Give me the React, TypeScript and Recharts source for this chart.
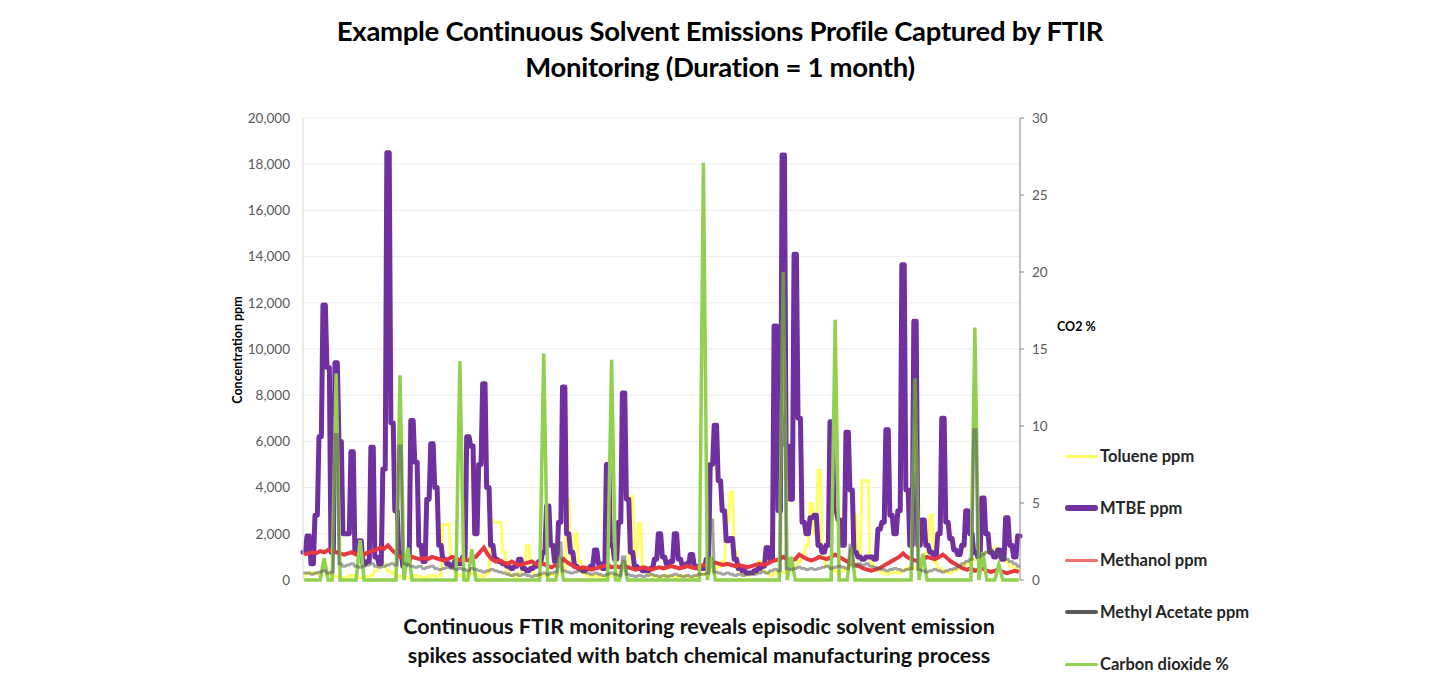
import { CartesianGrid, Line, LineChart, XAxis, YAxis } from 'recharts'

// FTIR readings, one sample per step across the month (ppm unless noted)
const toluene = [
  200, 300, 300, 300, 200, 800, 300, 200, 150, 100,
  100, 150, 200, 150, 100, 100, 150, 200, 400, 700,
  700, 400, 300, 200, 150, 100, 100, 150, 200, 150,
  100, 150, 200, 150, 200, 2400, 2400, 1000, 300, 200,
  150, 200, 300, 250, 200, 150, 300, 2600, 2500, 2500,
  1200, 300, 200, 150, 300, 500, 1500, 400, 200, 150,
  200, 300, 250, 200, 300, 500, 3500, 800, 2000, 800,
  300, 200, 150, 200, 150, 100, 150, 200, 150, 300,
  400, 600, 3600, 1000, 2450, 600, 300, 200, 150, 100,
  150, 200, 150, 100, 150, 200, 150, 100, 150, 200,
  250, 300, 400, 500, 600, 800, 2500, 3800, 1200, 400,
  300, 200, 250, 300, 800, 400, 300, 200, 300, 400,
  300, 400, 500, 600, 800, 1000, 1500, 3300, 2000, 4750,
  1000, 600, 500, 400, 300, 400, 500, 600, 2800, 900,
  4300, 4300, 800, 500, 400, 300, 250, 300, 350, 300,
  400, 500, 600, 500, 700, 900, 1200, 2800, 800, 500,
  400, 350, 300, 400, 500, 600, 700, 800, 900, 1000,
  1100, 1200, 1300, 1400, 1200, 1000, 800, 600, 500, 400,
]

const mtbe = [
  1200, 1900, 700, 2800, 6200, 11900, 9200, 1200, 9400, 6000,
  2000, 2000, 5550, 1200, 1700, 700, 800, 5750, 1000, 700,
  4800, 18500, 6800, 3000, 1200, 600, 800, 6900, 5100, 1500,
  800, 3500, 5900, 4000, 1500, 900, 700, 600, 800, 700,
  1000, 6200, 5800, 2000, 5000, 8500, 4000, 1500, 900, 800,
  700, 600, 500, 600, 900, 500, 400, 500, 600, 800,
  1200, 3200, 1500, 800, 2500, 8350, 2000, 1200, 600, 500,
  400, 500, 600, 1300, 700, 500, 5000, 1500, 900, 2500,
  8100, 3500, 1200, 600, 500, 400, 400, 500, 900, 2000,
  1000, 700, 800, 2000, 900, 600, 700, 1100, 600, 500,
  500, 900, 5000, 6700, 4300, 3000, 1700, 1800, 900, 500,
  400, 300, 300, 400, 500, 600, 1400, 900, 11000, 3000,
  18400, 5800, 3500, 14100, 7000, 2500, 2000, 2700, 2800, 1500,
  1200, 1500, 6850, 3000, 2600, 1500, 6400, 3900, 1200, 1000,
  900, 1000, 1000, 900, 2200, 2500, 6500, 2800, 2000, 3000,
  13650, 3900, 1500, 11200, 1500, 2600, 1500, 1200, 1000, 2000,
  7000, 2500, 1800, 1300, 1100, 1500, 3000, 2000, 1200, 1000,
  3550, 2000, 1200, 1000, 1300, 900, 2700, 1500, 1000, 1900,
]

const methanol = [
  1100, 1150, 1200, 1150, 1250, 1200, 1300, 1250, 1200, 1150,
  1100, 1150, 1200, 1100, 1050, 1100, 1200, 1250, 1300, 1400,
  1350, 1500, 1300, 1150, 1000, 950, 900, 1000, 950, 900,
  950, 900, 1000, 950, 900, 850, 900, 1000, 950, 850,
  900, 850, 950, 1000, 1200, 1400, 1100, 900, 800, 850,
  750, 700, 800, 700, 650, 700, 750, 800, 700, 650,
  700, 600, 550, 650, 700, 900, 750, 650, 550, 500,
  550, 500, 450, 500, 550, 600, 650, 550, 600, 550,
  600, 550, 500, 450, 500, 550, 500, 450, 500, 550,
  500, 550, 600, 550, 500, 550, 600, 550, 500, 600,
  650, 600, 700, 750, 700, 650, 700, 650, 600, 650,
  600, 550, 600, 650, 700, 650, 700, 800, 850, 900,
  1000, 900, 850, 900, 1100, 1000, 900, 850, 900, 1000,
  950, 900, 1000, 1100, 1000, 900, 800, 700, 650, 600,
  500, 450, 400, 450, 500, 600, 700, 800, 900, 1000,
  1150, 1000, 900, 850, 800, 900, 1000, 950, 900, 1000,
  1100, 950, 800, 700, 600, 500, 450, 500, 400, 450,
  500, 400, 350, 400, 450, 350, 300, 350, 400, 350,
]

const methylAcetate = [
  300, 300, 250, 300, 350, 400, 300, 350, 6300, 700,
  600, 650, 700, 600, 550, 600, 650, 700, 600, 550,
  600, 650, 700, 650, 5800, 700, 650, 600, 550, 600,
  500, 550, 600, 500, 450, 500, 550, 500, 450, 500,
  450, 400, 500, 450, 400, 350, 400, 450, 400, 350,
  300, 250, 200, 250, 200, 250, 200, 150, 200, 250,
  300, 250, 300, 350, 1600, 400, 350, 300, 350, 400,
  350, 300, 250, 300, 250, 200, 250, 300, 250, 200,
  1000, 250, 200, 150, 200, 150, 200, 250, 200, 150,
  200, 150, 200, 250, 200, 150, 200, 150, 200, 250,
  250, 300, 2600, 350, 300, 250, 300, 250, 200, 250,
  200, 250, 300, 250, 300, 350, 300, 400, 450, 400,
  13300, 500, 450, 500, 550, 500, 450, 500, 450, 500,
  550, 600, 500, 550, 600, 550, 500, 1500, 600, 700,
  650, 700, 600, 550, 500, 450, 400, 450, 500, 450,
  400, 450, 500, 8700, 450, 400, 350, 400, 450, 400,
  350, 400, 450, 500, 600, 700, 800, 900, 6500, 1000,
  1100, 1200, 1300, 1200, 1100, 1000, 900, 800, 700, 600,
]

// CO2 in %, read against the right-hand axis
const co2 = [
  0, 0, 0, 0, 0, 1.4, 0, 0, 13.4, 0,
  0, 0, 0, 0, 2.6, 0, 0, 0, 0, 0,
  0, 0, 0, 0, 13.3, 0, 2.1, 0, 0, 0,
  0, 0, 0, 0, 0, 0, 0, 0, 0, 14.2,
  0, 0, 2, 0, 0, 0, 0, 0, 0, 0,
  0, 0, 0, 0, 0, 0, 0, 0, 0, 0,
  14.7, 0, 0, 0, 1.5, 0, 0, 0, 0, 0,
  0, 0, 0, 0, 0, 0, 0, 14.3, 0, 0,
  1.3, 0, 0, 0, 0, 0, 0, 0, 0, 0,
  0, 0, 0, 0, 0, 0, 0, 0, 0, 0,
  27.1, 0, 1.5, 0, 0, 0, 0, 0, 0, 0,
  0, 0, 0, 0, 0, 0, 0, 0, 0, 0,
  20, 0, 1.5, 0, 0, 0, 0, 0, 0, 0,
  0, 0, 0, 16.9, 0, 0, 0, 2.1, 0, 0,
  0, 0, 0, 0, 0, 0, 0, 0, 0, 0,
  0, 0, 0, 13.1, 0, 1.7, 0, 0, 0, 0,
  0, 0, 0, 0, 0, 0, 0, 0, 16.4, 0,
  1.8, 0, 0, 0, 1, 0, 0, 0, 0, 0,
]

const ppmTicks = [0, 2000, 4000, 6000, 8000, 10000, 12000, 14000, 16000, 18000, 20000]
const co2Ticks = [0, 5, 10, 15, 20, 25, 30]

const legendItems = [
  { name: 'Toluene ppm', color: '#ffff66', width: 3 },
  { name: 'MTBE ppm', color: '#7030a0', width: 6 },
  { name: 'Methanol ppm', color: '#f07070', width: 3 },
  { name: 'Methyl Acetate ppm', color: '#595959', width: 4 },
  { name: 'Carbon dioxide %', color: '#92d050', width: 3 },
]

// one row per sample for the smooth series
const chartData = mtbe.map((_, i) => ({ t: i, methanol: methanol[i], co2: co2[i] }))

// the ppm solvents are held over a short window around each sample,
// which gives the flat-topped spikes of the logger export
const HOLD = 0.3
const heldData = mtbe.flatMap((v, i) => [
  { t: i - HOLD, toluene: toluene[i], mtbe: v, methylAcetate: methylAcetate[i] },
  { t: i + HOLD, toluene: toluene[i], mtbe: v, methylAcetate: methylAcetate[i] },
])

const font = 'Lato, "Open Sans", sans-serif'

function LegendBox() {
  return (
    <div style={{ position: 'absolute', left: 1065, top: 430 }}>
      {legendItems.map((it) => (
        <div key={it.name} style={{ display: 'flex', alignItems: 'center', height: 52 }}>
          <div
            style={{
              width: 33,
              height: it.width,
              background: it.color,
              borderRadius: it.width / 2,
              marginRight: 2,
            }}
          />
          <span style={{ fontSize: 16.5, fontWeight: 700, color: '#262626', whiteSpace: 'nowrap' }}>{it.name}</span>
        </div>
      ))}
    </div>
  )
}

export default function App() {
  return (
    <div style={{ position: 'absolute', left: 0, top: 0, width: 1440, height: 700, background: '#fff', fontFamily: font }}>
      <div
        style={{
          position: 'absolute',
          left: 0,
          top: 13,
          width: 1440,
          textAlign: 'center',
          fontSize: 27.5,
          fontWeight: 700,
          lineHeight: '36px',
          color: '#000',
          letterSpacing: -0.3,
        }}
      >
        <div>Example Continuous Solvent Emissions Profile Captured by FTIR</div>
        <div>Monitoring (Duration = 1 month)</div>
      </div>

      <LineChart
        width={1440}
        height={700}
        data={chartData}
        margin={{ top: 118, bottom: 120, left: 243, right: 380 }}
        style={{ position: 'absolute', left: 0, top: 0 }}
      >
        <CartesianGrid vertical={false} yAxisId="ppm" stroke="#eeeeee" />
        <XAxis dataKey="t" type="number" domain={[-HOLD, mtbe.length - 1 + HOLD]} hide />
        <YAxis
          yAxisId="ppm"
          width={60}
          domain={[0, 20000]}
          ticks={ppmTicks}
          interval={0}
          tickFormatter={(v) => Number(v).toLocaleString('en-US')}
          axisLine={{ stroke: '#d9d9d9' }}
          tickLine={false}
          tickSize={8}
          tickMargin={5}
          tick={{ fill: '#595959', fontSize: 13.5, fontFamily: font }}
        />
        <YAxis
          yAxisId="co2"
          orientation="right"
          width={40}
          domain={[0, 30]}
          ticks={co2Ticks}
          interval={0}
          axisLine={{ stroke: '#868686' }}
          tickLine={{ stroke: '#868686' }}
          tickSize={4}
          tickMargin={8}
          tick={{ fill: '#595959', fontSize: 13.5, fontFamily: font }}
        />
        <Line
          yAxisId="ppm"
          data={heldData}
          dataKey="toluene"
          stroke="#ffff66"
          strokeWidth={3}
          dot={false}
          isAnimationActive={false}
        />
        <Line
          yAxisId="ppm"
          data={heldData}
          dataKey="mtbe"
          stroke="#7030a0"
          strokeWidth={5}
          strokeLinejoin="round"
          strokeLinecap="round"
          dot={false}
          isAnimationActive={false}
        />
        <Line yAxisId="ppm" dataKey="methanol" stroke="#e8383f" strokeWidth={4} dot={false} isAnimationActive={false} />
        <Line yAxisId="co2" dataKey="co2" stroke="#92d050" strokeWidth={3.5} dot={false} isAnimationActive={false} />
        <Line
          yAxisId="ppm"
          data={heldData}
          dataKey="methylAcetate"
          stroke="#595959"
          strokeOpacity={0.55}
          strokeWidth={3}
          dot={false}
          isAnimationActive={false}
        />
      </LineChart>

      <div
        style={{
          position: 'absolute',
          left: 237,
          top: 350,
          transform: 'translate(-50%, -50%) rotate(-90deg)',
          fontSize: 12.5,
          fontWeight: 700,
          whiteSpace: 'nowrap',
          color: '#000',
        }}
      >
        Concentration ppm
      </div>
      <div style={{ position: 'absolute', left: 1057, top: 319, fontSize: 12.5, fontWeight: 700, color: '#000' }}>
        CO2 %
      </div>

      <LegendBox />

      <div
        style={{
          position: 'absolute',
          left: 0,
          top: 612,
          width: 1398,
          textAlign: 'center',
          fontSize: 21.5,
          fontWeight: 700,
          lineHeight: '29px',
          color: '#111',
        }}
      >
        <div>Continuous FTIR monitoring reveals episodic solvent emission</div>
        <div>spikes associated with batch chemical manufacturing process</div>
      </div>
    </div>
  )
}
